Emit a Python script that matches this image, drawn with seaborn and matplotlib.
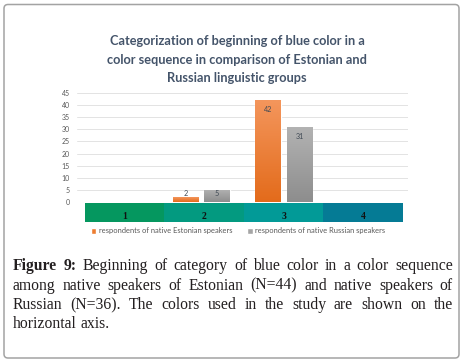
import numpy as np
import pandas as pd
import matplotlib
matplotlib.use("Agg")
import matplotlib.pyplot as plt
from matplotlib.colors import LinearSegmentedColormap
from matplotlib.patches import FancyBboxPatch
from matplotlib.transforms import IdentityTransform
import seaborn as sns

# data
categories = ["1", "2", "3", "4"]
estonian = [0, 2, 42, 0]
russian = [0, 5, 31, 0]
series_names = ["respondents of native Estonian speakers",
                "respondents of native Russian speakers"]
y_ticks = list(range(0, 50, 5))
band_colors = ["#05975f", "#039a80", "#029a97", "#057b95"]
title_lines = ["Categorization of beginning of blue color in a",
               "color sequence in comparison of Estonian and",
               "Russian linguistic groups"]
caption_lines = [
    "Figure 9: Beginning of category of blue color in a color sequence",
    "among native speakers of Estonian (N=44) and native speakers of",
    "Russian (N=36). The colors used in the study are shown on the",
    "horizontal axis.",
]
bold_words = {"Figure", "9:"}

sns.set_style("white")
plt.rcParams["font.family"] = ["Lato", "DejaVu Sans"]

W, H = 464, 362
fig = plt.figure(figsize=(W / 100, H / 100), dpi=100)

def fx(px):
    return px / W

def fy(py):
    # py measured from top
    return (H - py) / H

df = pd.DataFrame({
    "category": categories * 2,
    "count": estonian + russian,
    "group": [series_names[0]] * 4 + [series_names[1]] * 4,
})

# main bar axes: y=0 at 202px, 46 units ~ 111.4px
ax = fig.add_axes([fx(77), fy(202), fx(331), 111.4 / H])
sns.barplot(data=df, x="category", y="count", hue="group",
            palette=["#ed7d31", "#a5a5a5"], saturation=1,
            width=0.76, gap=0.19, ax=ax)
ax.set_xlim(-0.5, 3.5)
ax.set_ylim(0, 46)
ax.set_yticks(y_ticks)
ax.set_xticks([])
ax.set_xlabel("")
ax.set_ylabel("")
ax.grid(axis="y", color="#e3e3e3", lw=0.7)
ax.set_axisbelow(True)
for s in ax.spines.values():
    s.set_visible(False)
ax.tick_params(axis="y", length=0, pad=5, labelsize=5, labelcolor="#595959")

# per-bar vertical gradients like the office fill
cmaps = [LinearSegmentedColormap.from_list("o", ["#e36b1b", "#f4965c"]),
         LinearSegmentedColormap.from_list("g", ["#8d8d8d", "#b3b3b3"])]
grad = np.linspace(0, 1, 256).reshape(-1, 1)
px_per_unit = 111.4 / 46
for cont, cmap in zip(ax.containers, cmaps):
    for patch in cont.patches:
        x, w, h = patch.get_x(), patch.get_width(), patch.get_height()
        if h <= 0:
            continue
        im = ax.imshow(grad, extent=(x, x + w, 0, h), origin="lower",
                       cmap=cmap, aspect="auto", zorder=patch.get_zorder() + 0.1)
        im.set_clip_path(patch)
        off = max(h * px_per_unit - 9.5, 9)
        ax.annotate(f"{h:g}", (x + w / 2, 0), xytext=(0, off),
                    textcoords="offset pixels", ha="center", va="center",
                    fontsize=5.2, color="#404a55", zorder=5)
ax.set_xlim(-0.5, 3.5)
ax.set_ylim(0, 46)

sns.move_legend(ax, "center", bbox_to_anchor=(fx(238), fy(231)),
                bbox_transform=fig.transFigure, ncol=2, frameon=False,
                fontsize=5.4, handlelength=0.75, handleheight=0.75,
                handletextpad=0.3, columnspacing=2.0, title=None,
                labelcolor="#595959")

# colour band with category numbers
bx = fig.add_axes([fx(85), fy(222.3), fx(318), 19.3 / H])
bx.bar(range(len(categories)), [1] * len(categories), width=1.0,
       color=band_colors, linewidth=0)
bx.set_xlim(-0.5, len(categories) - 0.5)
bx.set_ylim(0, 1)
bx.axis("off")
for i, c in enumerate(categories):
    bx.text(i, 0.3, c, ha="center", va="center", fontsize=7,
            fontweight="bold", family="Liberation Serif", color="#111111")

# title
for i, line in enumerate(title_lines):
    fig.text(fx(237), fy(41 + 18.5 * i), line, ha="center", va="center",
             fontsize=9.2, fontweight="bold", color="#44546a")

# justified caption
renderer = fig.canvas.get_renderer()
x0, x1 = 13, 453
for i, line in enumerate(caption_lines):
    words = line.split()
    texts = [fig.text(0, fy(270 + 19.5 * i), wd, ha="left", va="baseline",
                      fontsize=11.3, family="Liberation Serif",
                      fontweight="bold" if (i == 0 and wd in bold_words) else "normal",
                      color="#231f20") for wd in words]
    widths = [t.get_window_extent(renderer).width for t in texts]
    last = i == len(caption_lines) - 1
    if last:
        sp = 3.8
    else:
        sp = (x1 - x0 - sum(widths)) / (len(words) - 1)
    xpos = x0
    for t, wdt in zip(texts, widths):
        t.set_x(fx(xpos))
        xpos += wdt + sp

# rounded frame
frame = FancyBboxPatch((4, 4), 455, 353.5, boxstyle="round,pad=0,rounding_size=4",
                       transform=IdentityTransform(), fill=False,
                       edgecolor="#a3a3a3", lw=1.1)
fig.add_artist(frame)

fig.savefig("out.png", dpi=100)
